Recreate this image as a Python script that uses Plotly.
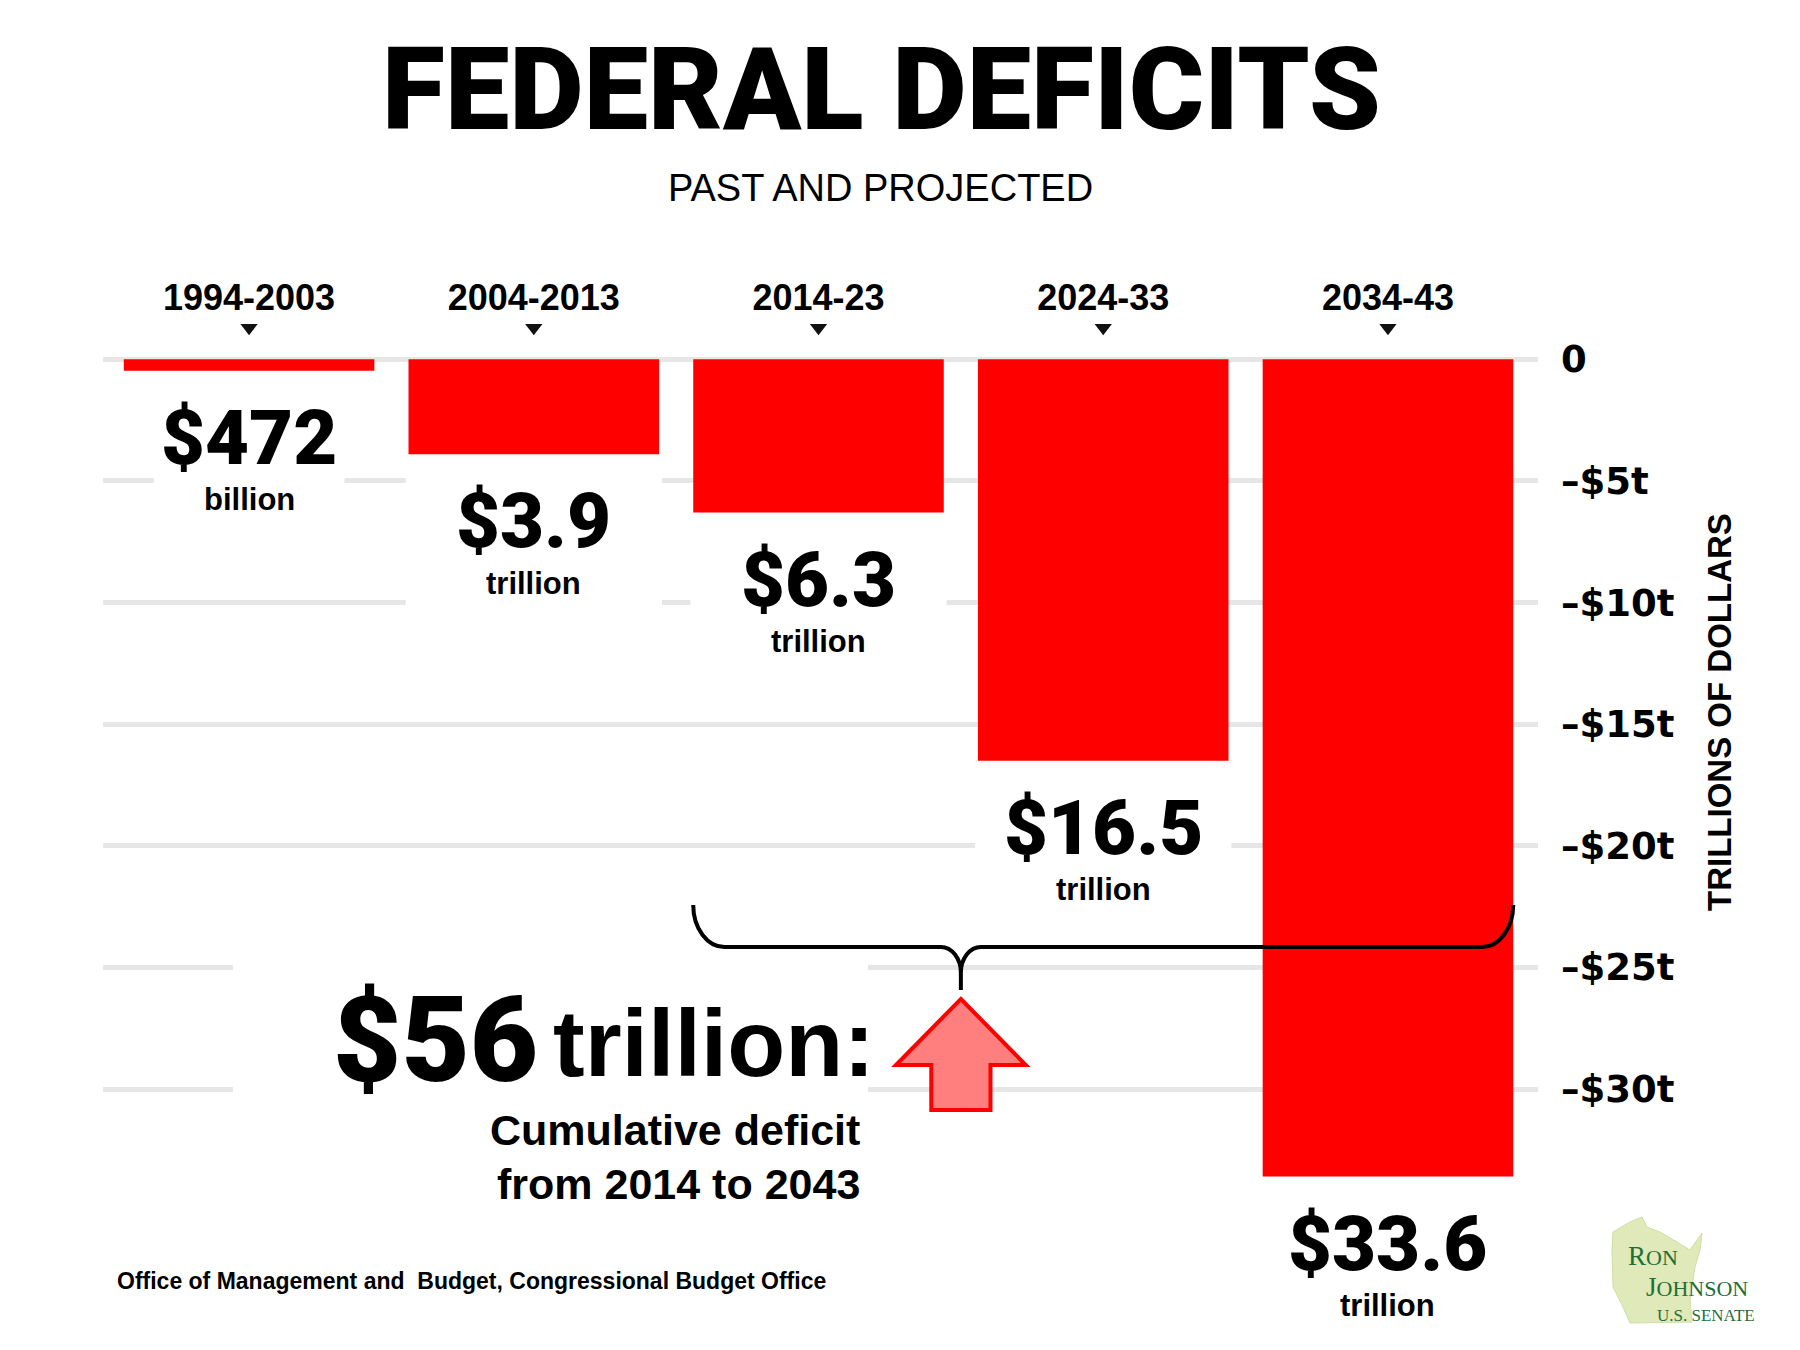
import plotly.graph_objects as go

# ---------------- data ----------------
periods = ["1994-2003", "2004-2013", "2014-23", "2024-33", "2034-43"]
deficits = [0.472, 3.9, 6.3, 16.5, 33.6]          # trillions of dollars
amount_labels = ["$472", "$3.9", "$6.3", "$16.5", "$33.6"]
unit_labels = ["billion", "trillion", "trillion", "trillion", "trillion"]
y_tickvals = [0, -5, -10, -15, -20, -25, -30]
y_ticktext = ["0", "–$5t", "–$10t", "–$15t", "–$20t", "–$25t", "–$30t"]
cumulative_amount = "$56"
cumulative_unit = "trillion:"
cumulative_text = ["Cumulative deficit", "from 2014 to 2043"]
cumulative_first, cumulative_last = 2, 4   # 2014-23 .. 2034-43
source_text = "Office of Management and  Budget, Congressional Budget Office"

# ---------------- layout constants ----------------
W, H = 1800, 1350
ML, MR, MT, MB = 103, 262, 318, 115
PW, PH = W - ML - MR, H - MT - MB
XR = [-0.513, 4.527]
YR = [-36, 1.7]
BAR_W = 0.88

HEAVY = "Roboto"
COND = "Liberation Sans Narrow, Liberation Sans, Arial, sans-serif"
REG = "Liberation Sans, Arial, sans-serif"
SERIF = "Liberation Serif, DejaVu Serif, serif"
RED = "#ff0000"


def xp(px):
    return (px - ML) / PW


def yp(py):
    return (H - MB - py) / PH


def px2x(px):
    return XR[0] + (px - ML) / PW * (XR[1] - XR[0])


def py2y(py):
    return YR[1] - (py - MT) / PH * (YR[1] - YR[0])


idx = list(range(len(periods)))
fig = go.Figure()

fig.add_trace(go.Bar(
    x=idx, y=[-d for d in deficits], width=BAR_W,
    marker=dict(color=RED, line=dict(width=0)),
    hoverinfo="skip",
))
fig.add_trace(go.Scatter(
    x=idx, y=[1.3] * len(idx), mode="markers",
    marker=dict(symbol="triangle-down", size=15, color="#111111"),
    cliponaxis=False, hoverinfo="skip",
))

shapes = []
annotations = []

# white masks interrupting gridlines behind value labels
for i, d in enumerate(deficits):
    w = 0.67 if unit_labels[i] == "billion" else 0.9
    shapes.append(dict(type="rect", xref="x", yref="y", layer="between",
                       x0=i - w / 2, x1=i + w / 2, y0=-d, y1=-d - 6.4,
                       fillcolor="white", line=dict(width=0)))
    annotations.append(dict(x=i, y=-d, xref="x", yref="y", yshift=-67,
                            text=amount_labels[i], showarrow=False,
                            font=dict(family=HEAVY, weight=900, size=76, color="black")))
    annotations.append(dict(x=i, y=-d, xref="x", yref="y", yshift=-129,
                            text=unit_labels[i], showarrow=False,
                            font=dict(family=COND, weight="bold", size=31, color="black")))

# mask behind cumulative block
shapes.append(dict(type="rect", xref="x", yref="y", layer="between",
                   x0=px2x(233), x1=px2x(868), y0=py2y(928), y1=py2y(1127),
                   fillcolor="white", line=dict(width=0)))

# curly brace over 2014-2043
L = cumulative_first - BAR_W / 2
R = cumulative_last + BAR_W / 2
T = cumulative_first + 0.5
top, h, tip = py2y(905), py2y(947), py2y(990)
rx, mx = 0.11, 0.07
k = 0.552
dy = (h - tip) * 0.6
brace = (
    f"M {L},{top} C {L},{top + k * (h - top)} {L + rx * (1 - k)},{h} {L + rx},{h} "
    f"L {T - mx},{h} C {T - mx * 0.45},{h} {T},{h - 0.45 * dy} {T},{h - dy} "
    f"L {T},{tip} L {T},{h - dy} "
    f"C {T},{h - 0.45 * dy} {T + mx * 0.45},{h} {T + mx},{h} "
    f"L {R - rx},{h} C {R - rx * (1 - k)},{h} {R},{top + k * (h - top)} {R},{top}"
)
shapes.append(dict(type="path", xref="x", yref="y", path=brace, layer="above",
                   line=dict(color="black", width=4)))

# up arrow
a_tip, a_base, a_bot = py2y(999), py2y(1065), py2y(1110)
hw, sw = 0.228, 0.104
arrow = (f"M {T},{a_tip} L {T + hw},{a_base} L {T + sw},{a_base} L {T + sw},{a_bot} "
         f"L {T - sw},{a_bot} L {T - sw},{a_base} L {T - hw},{a_base} Z")
shapes.append(dict(type="path", xref="x", yref="y", path=arrow, layer="above",
                   fillcolor="#ff7f7f", line=dict(color=RED, width=4)))

# cumulative text
annotations.append(dict(x=xp(540), y=yp(1041), xref="paper", yref="paper",
                        xanchor="right", yanchor="middle", text=cumulative_amount,
                        showarrow=False,
                        font=dict(family=HEAVY, weight=900, size=118, color="black")))
annotations.append(dict(x=xp(551), y=yp(1043), xref="paper", yref="paper",
                        xanchor="left", yanchor="middle", text=cumulative_unit,
                        showarrow=False,
                        font=dict(family=COND, weight="bold", size=95, color="black")))
for line, py in zip(cumulative_text, [1130, 1184]):
    annotations.append(dict(x=xp(862), y=yp(py), xref="paper", yref="paper",
                            xanchor="right", yanchor="middle", text=line, showarrow=False,
                            font=dict(family=COND, weight="bold", size=43, color="black")))

# titles
annotations.append(dict(x=xp(881), y=yp(89), xref="paper", yref="paper",
                        xanchor="center", yanchor="middle", text="FEDERAL DEFICITS",
                        showarrow=False,
                        font=dict(family=HEAVY, weight=900, size=115, color="black")))
annotations.append(dict(x=xp(880), y=yp(188), xref="paper", yref="paper",
                        xanchor="center", yanchor="middle", text="PAST AND PROJECTED",
                        showarrow=False,
                        font=dict(family=REG, size=38, color="black")))

# axis title
annotations.append(dict(x=xp(1719), y=yp(712), xref="paper", yref="paper",
                        xanchor="center", yanchor="middle", textangle=-90,
                        text="TRILLIONS OF DOLLARS", showarrow=False,
                        font=dict(family=COND, weight="bold", size=33, color="black")))

# source
annotations.append(dict(x=xp(115), y=yp(1281), xref="paper", yref="paper",
                        xanchor="left", yanchor="middle", text=source_text,
                        showarrow=False,
                        font=dict(family=COND, weight="bold", size=23, color="black")))

# logo
wi_pts = [(1613, 1232), (1630, 1222), (1642, 1217), (1647, 1227), (1660, 1232),
          (1677, 1242), (1690, 1250), (1697, 1240), (1702, 1233), (1700, 1250),
          (1695, 1267), (1690, 1300), (1692, 1322), (1630, 1323), (1623, 1307),
          (1613, 1287), (1612, 1250)]
wi_path = "M " + " L ".join(f"{xp(a)},{yp(b)}" for a, b in wi_pts) + " Z"
shapes.append(dict(type="path", xref="paper", yref="paper", path=wi_path, layer="above",
                   fillcolor="#dfe9b9", line=dict(color="#cfdfa3", width=1)))
GREEN = "#1f6e38"
logo_lines = [
    ("R<span style='font-size:22px'>ON</span>", 1626, 1256, 27),
    ("J<span style='font-size:22px'>OHNSON</span>", 1644, 1287, 27),
    ("U.S. SENATE", 1655, 1315, 17),
]
for txt, x0, y0, fs in logo_lines:
    annotations.append(dict(x=xp(x0), y=yp(y0), xref="paper", yref="paper",
                            xanchor="left", yanchor="middle", text=txt, showarrow=False,
                            font=dict(family=SERIF, size=fs, color=GREEN)))

fig.update_layout(
    width=W, height=H,
    margin=dict(l=ML, r=MR, t=MT, b=MB, pad=0),
    paper_bgcolor="white", plot_bgcolor="white",
    showlegend=False,
    bargap=0.12,
    shapes=shapes,
    annotations=annotations,
    xaxis=dict(range=XR, side="top", tickmode="array", tickvals=idx, ticktext=periods,
               tickfont=dict(family=REG, weight="bold", size=36, color="black"),
               showgrid=False, zeroline=False, showline=False, ticks="",
               ticklabelstandoff=0, fixedrange=True),
    yaxis=dict(range=YR, side="right", tickmode="array", tickvals=y_tickvals,
               ticktext=y_ticktext,
               tickfont=dict(family="DejaVu Sans", weight="bold", size=37, color="black"),
               showgrid=True, gridcolor="#e6e6e6", gridwidth=5,
               zeroline=False, showline=False, ticks="", ticklabelstandoff=22,
               fixedrange=True),
)

fig.write_html("out.html")
